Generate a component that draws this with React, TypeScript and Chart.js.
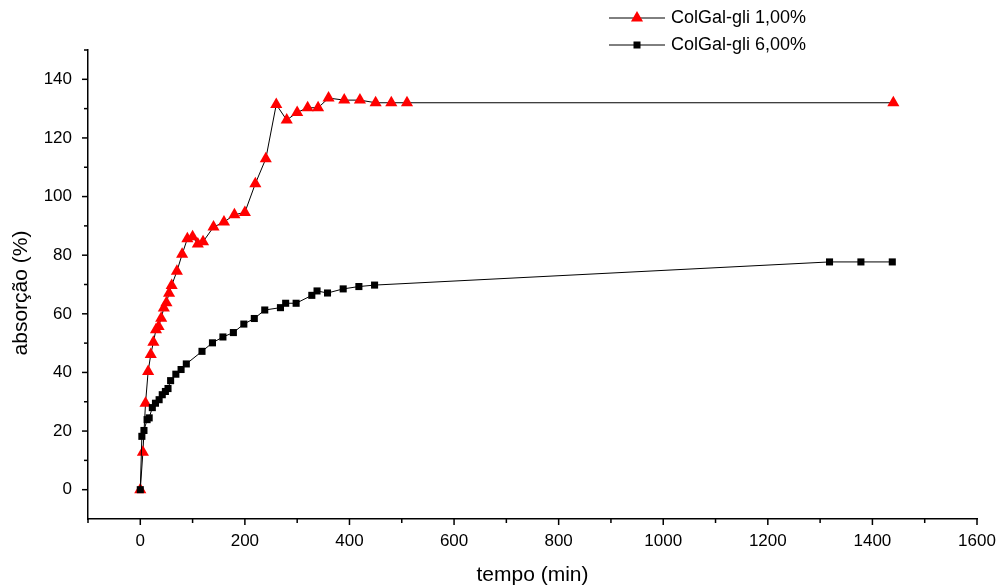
import React, { useEffect, useRef } from 'react';
import { Chart, registerables } from 'chart.js';

Chart.register(...registerables);

// ---- data ----
const seriesNames = ['ColGal-gli 1,00%', 'ColGal-gli 6,00%'];

const redTime = [0, 5, 10, 15, 20, 25, 30, 35, 40, 45, 50, 55, 60, 70, 80, 90, 100, 110, 120, 140, 160, 180, 200, 220, 240, 260, 280, 300, 320, 340, 360, 390, 420, 450, 480, 510, 1440];
const redAbs = [0, 12.8, 29.5, 40.3, 46.1, 50.3, 54.6, 55.7, 58.5, 62.0, 63.8, 67.0, 69.7, 74.5, 80.3, 85.6, 86.3, 83.8, 84.6, 89.6, 91.3, 93.8, 94.6, 104.4, 112.9, 131.4, 126.1, 128.7, 130.3, 130.3, 133.6, 132.9, 132.9, 132.0, 132.0, 132.0, 132.0];

const blackTime = [0, 3, 7, 13, 17, 23, 29, 36, 42, 48, 53, 58, 68, 78, 88, 118, 138, 158, 178, 198, 218, 238, 268, 278, 298, 328, 338, 358, 388, 418, 448, 1318, 1378, 1438];
const blackAbs = [0, 18.2, 20.2, 23.9, 24.5, 28.0, 29.5, 30.7, 32.4, 33.5, 34.5, 37.2, 39.4, 41.0, 42.9, 47.2, 50.1, 52.1, 53.6, 56.5, 58.4, 61.3, 62.1, 63.6, 63.6, 66.3, 67.8, 67.1, 68.5, 69.3, 69.8, 77.7, 77.7, 77.7];

const xMajorTicks = [0, 200, 400, 600, 800, 1000, 1200, 1400, 1600];
const xMinorTicks = [-100, 100, 300, 500, 700, 900, 1100, 1300, 1500];
const yMajorTicks = [0, 20, 40, 60, 80, 100, 120, 140];
const yMinorTicks = [10, 30, 50, 70, 90, 110, 130, 150];

const xTitle = 'tempo (min)';
const yTitle = 'absorção (%)';

const FONT = 'Arial, "Liberation Sans", sans-serif';

const decorPlugin = {
  id: 'decor',
  afterDraw(chart: any) {
    const ctx = chart.ctx as CanvasRenderingContext2D;
    const xs = chart.scales.x;
    const ys = chart.scales.y;
    const area = chart.chartArea;
    ctx.save();
    ctx.strokeStyle = '#000';
    ctx.lineWidth = 1.5;
    const seg = (x1: number, y1: number, x2: number, y2: number) => {
      ctx.beginPath();
      ctx.moveTo(x1, y1);
      ctx.lineTo(x2, y2);
      ctx.stroke();
    };
    xMajorTicks.forEach((v) => {
      const p = xs.getPixelForValue(v);
      seg(p, area.bottom, p, area.bottom + 6);
    });
    xMinorTicks.forEach((v) => {
      const p = xs.getPixelForValue(v);
      seg(p, area.bottom, p, area.bottom + 4);
    });
    yMajorTicks.forEach((v) => {
      const p = ys.getPixelForValue(v);
      seg(area.left - 6, p, area.left, p);
    });
    yMinorTicks.forEach((v) => {
      const p = ys.getPixelForValue(v);
      seg(area.left - 4, p, area.left, p);
    });

    // axis titles
    ctx.fillStyle = '#000';
    ctx.font = `21px ${FONT}`;
    ctx.textAlign = 'center';
    ctx.textBaseline = 'middle';
    ctx.fillText(xTitle, (area.left + area.right) / 2, 575);
    ctx.save();
    ctx.translate(21, 293);
    ctx.rotate(-Math.PI / 2);
    ctx.fillText(yTitle, 0, 0);
    ctx.restore();

    // legend
    const rows = [
      { y: 18, name: seriesNames[0], marker: 'tri' },
      { y: 45, name: seriesNames[1], marker: 'sq' },
    ];
    ctx.font = `18px ${FONT}`;
    ctx.textAlign = 'left';
    rows.forEach((r) => {
      ctx.strokeStyle = '#000';
      ctx.lineWidth = 1;
      seg(609, r.y, 665, r.y);
      const cx = 637;
      if (r.marker === 'tri') {
        const rad = 7;
        ctx.fillStyle = '#ff0000';
        ctx.beginPath();
        ctx.moveTo(cx, r.y - rad);
        ctx.lineTo(cx + rad * Math.sin(Math.PI / 3), r.y + rad / 2);
        ctx.lineTo(cx - rad * Math.sin(Math.PI / 3), r.y + rad / 2);
        ctx.closePath();
        ctx.fill();
      } else {
        ctx.fillStyle = '#000';
        ctx.fillRect(cx - 3.5, r.y - 3.5, 7, 7);
      }
      ctx.fillStyle = '#000';
      ctx.fillText(r.name, 671, r.y);
    });
    ctx.restore();
  },
};

export default function App() {
  const ref = useRef<HTMLCanvasElement | null>(null);
  useEffect(() => {
    if (!ref.current) return;
    const chart = new Chart(ref.current, {
      type: 'line',
      data: {
        datasets: [
          {
            label: seriesNames[1],
            data: blackTime.map((t, i) => ({ x: t, y: blackAbs[i] })),
            borderColor: '#000',
            borderWidth: 1,
            pointStyle: 'rect',
            pointRadius: 5,
            pointBackgroundColor: '#000',
            pointBorderColor: '#000',
            pointBorderWidth: 0,
            tension: 0,
            fill: false,
          },
          {
            label: seriesNames[0],
            data: redTime.map((t, i) => ({ x: t, y: redAbs[i] })),
            borderColor: '#000',
            borderWidth: 1,
            pointStyle: 'triangle',
            pointRadius: 7,
            pointBackgroundColor: '#ff0000',
            pointBorderColor: '#ff0000',
            pointBorderWidth: 0,
            tension: 0,
            fill: false,
          },
        ],
      },
      options: {
        animation: false,
        responsive: false,
        maintainAspectRatio: false,
        layout: { padding: { top: 50, right: 23, left: 0, bottom: 0 } },
        plugins: {
          legend: { display: false },
          tooltip: { enabled: false },
        },
        scales: {
          x: {
            type: 'linear',
            min: -100,
            max: 1600,
            grid: { display: false, drawTicks: false },
            border: { display: true, color: '#000', width: 1.5 },
            afterBuildTicks: (s: any) => {
              s.ticks = xMajorTicks.map((v) => ({ value: v }));
            },
            afterFit: (s: any) => {
              s.height = 68;
              s.paddingLeft = 0;
              s.paddingRight = 0;
            },
            ticks: {
              color: '#000',
              padding: 12,
              maxRotation: 0,
              autoSkip: false,
              font: { family: FONT, size: 17 },
              callback: (v: any) => String(v),
            },
          },
          y: {
            type: 'linear',
            min: -10,
            max: 150,
            grid: { display: false, drawTicks: false },
            border: { display: true, color: '#000', width: 1.5 },
            afterBuildTicks: (s: any) => {
              s.ticks = yMajorTicks.map((v) => ({ value: v }));
            },
            afterFit: (s: any) => {
              s.width = 88;
              s.paddingTop = 0;
              s.paddingBottom = 0;
            },
            ticks: {
              color: '#000',
              padding: 16,
              autoSkip: false,
              font: { family: FONT, size: 17 },
              callback: (v: any) => String(v),
            },
          },
        },
      },
      plugins: [decorPlugin],
    });
    return () => chart.destroy();
  }, []);
  return (
    <div style={{ position: 'absolute', left: 0, top: 0, width: 1000, height: 587, background: '#fff' }}>
      <canvas ref={ref} width={1000} height={587} style={{ width: 1000, height: 587 }} />
    </div>
  );
}
